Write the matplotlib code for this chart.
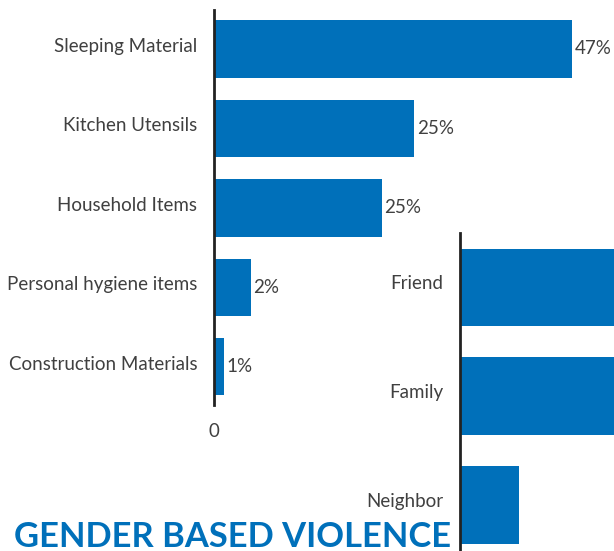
import matplotlib.pyplot as plt
from matplotlib.transforms import ScaledTranslation

# items distributed (bar lengths, labels as printed)
items = ['Sleeping Material', 'Kitchen Utensils', 'Household Items',
         'Personal hygiene items', 'Construction Materials']
item_vals = [47, 26.3, 22, 4.9, 1.3]
item_labels = ['47%', '25%', '25%', '2%', '1%']

# gender based violence - who (bars run off the right edge)
gbv_cats = ['Friend', 'Family', 'Neighbor']
gbv_vals = [45, 42, 15]

blue = '#0070BA'
grey = '#404040'
W, H = 614, 551
fs = 13.5

plt.rcParams['font.family'] = ['Lato', 'DejaVu Sans']

fig = plt.figure(figsize=(W/100, H/100), dpi=100)

def px_axes(left, top, right, bottom):
    return fig.add_axes([left/W, 1-bottom/H, (right-left)/W, (bottom-top)/H])

def lift(ax, px):
    # category labels sit a little above the bar centres
    for lab in ax.get_yticklabels():
        lab.set_transform(lab.get_transform() +
                          ScaledTranslation(0, px/100, fig.dpi_scale_trans))

# first chart
ax1 = px_axes(214, 10, 614, 405)
y1 = range(len(items))
ax1.barh(y1, item_vals, height=0.72, color=blue)
ax1.set_xlim(0, 400/7.617)
ax1.set_ylim(4.48, -0.49)
ax1.set_yticks(list(y1))
ax1.set_yticklabels(items, fontsize=fs, color=grey)
ax1.set_xticks([0])
ax1.set_xticklabels(['0'], fontsize=fs, color=grey)
ax1.tick_params(length=0, axis='y', pad=12)
ax1.tick_params(length=0, axis='x', pad=13)
for s in ['top', 'right', 'bottom']:
    ax1.spines[s].set_visible(False)
ax1.spines['left'].set_linewidth(2)
ax1.spines['left'].set_color('#222222')
for i, v in enumerate(item_vals):
    ax1.text(v + 0.3, i, item_labels[i], va='center', ha='left',
             fontsize=fs, color=grey)
lift(ax1, 4)

# second chart
ax2 = px_axes(460, 233, 614, 551)
y2 = range(len(gbv_cats))
ax2.barh(y2, gbv_vals, height=0.715, color=blue)
ax2.set_xlim(0, 15*154/59)
ax2.set_ylim(2.42, -0.5)
ax2.set_yticks(list(y2))
ax2.set_yticklabels(gbv_cats, fontsize=fs, color=grey)
ax2.set_xticks([])
ax2.tick_params(length=0, axis='y', pad=12)
for s in ['top', 'right', 'bottom']:
    ax2.spines[s].set_visible(False)
ax2.spines['left'].set_linewidth(2)
ax2.spines['left'].set_color('#222222')
lift(ax2, 5)

fig.text(14/W, 1-537/H, 'GENDER BASED VIOLENCE', fontsize=24.8,
         fontweight='bold', color=blue, va='center', ha='left')

fig.savefig('out.png', dpi=100)
